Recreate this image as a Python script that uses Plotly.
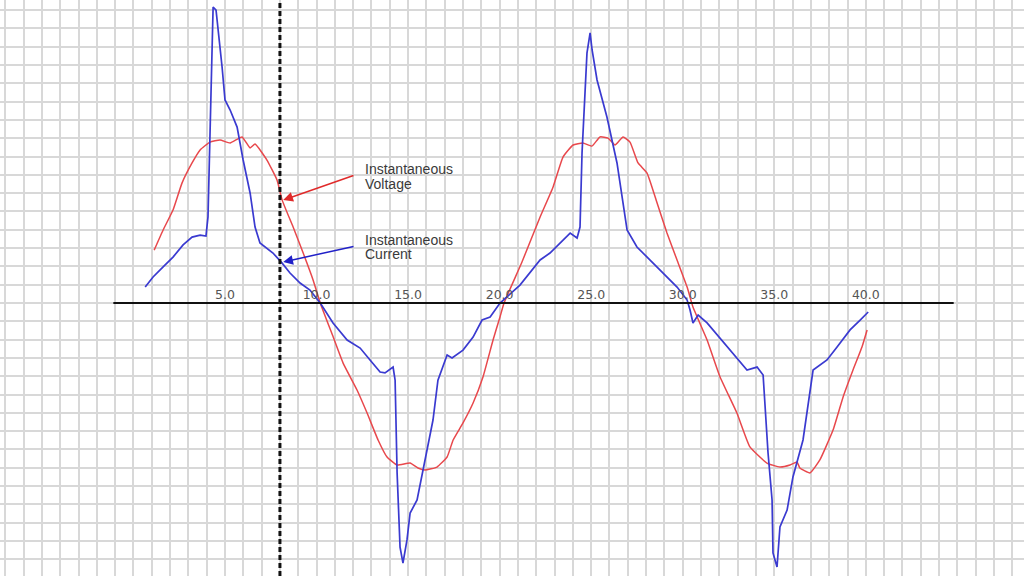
import plotly.graph_objects as go

# Instantaneous voltage (red)
volt_t = [1.13, 1.62, 2.16, 2.65, 3.20, 3.64, 4.18, 4.73, 5.28, 5.93, 6.37, 6.64, 7.29, 7.84, 8.12,
          8.72, 9.27, 9.81, 10.20, 10.91, 11.45, 12.21, 12.76, 13.36, 13.85, 14.40, 15.11, 15.54,
          15.93, 16.58, 17.13, 17.46, 18.00, 18.55, 19.09, 19.64, 20.02, 20.24, 21.22, 22.21,
          22.92, 23.46, 24.01, 24.55, 25.04, 25.48, 25.92, 26.30, 26.74, 27.12, 27.56, 28.05,
          28.60, 29.14, 29.69, 30.24, 30.56, 31.33, 32.04, 32.96, 33.67, 34.60, 35.31, 35.86,
          36.24, 36.40, 36.95, 37.49, 38.21, 38.76, 39.30, 39.79, 40.07]
volt_v = [2.89, 3.99, 5.08, 6.55, 7.65, 8.36, 8.79, 8.90, 8.74, 9.07, 8.47, 8.68, 7.81, 6.72, 5.62,
          4.15, 2.73, 1.26, 0.00, -1.86, -3.28, -4.75, -6.01, -7.48, -8.41, -8.85, -8.74, -9.01,
          -9.12, -8.96, -8.41, -7.48, -6.55, -5.46, -4.04, -2.02, -0.76, 0.00, 2.24, 4.70,
          6.34, 7.97, 8.63, 8.74, 8.57, 9.07, 9.01, 8.63, 9.07, 8.79, 7.65, 7.10,
          5.46, 3.82, 2.35, 0.87, -0.22, -2.02, -4.04, -6.01, -7.86, -8.74, -8.96, -8.85,
          -8.68, -9.01, -9.28, -8.57, -6.94, -5.13, -3.66, -2.40, -1.47]

# Instantaneous current (blue)
curr_t = [0.64, 1.07, 1.62, 2.16, 2.71, 3.20, 3.64, 3.96, 4.07, 4.18, 4.29, 4.35, 4.51, 4.62, 4.84,
          5.00, 5.28, 5.66, 5.99, 6.37, 6.64, 6.91, 7.30, 7.62, 8.12, 8.55, 9.10, 9.64, 10.20,
          10.90, 11.67, 12.38, 12.92, 13.47, 13.74, 14.18, 14.29, 14.40, 14.56, 14.72, 14.94,
          15.11, 15.49, 15.82, 16.36, 16.63, 17.13, 17.40, 18.00, 18.55, 19.04, 19.48, 20.02,
          21.11, 22.21, 22.75, 23.30, 23.85, 24.23, 24.39, 24.50, 24.77, 24.94, 25.05, 25.32,
          25.86, 26.41, 26.96, 27.50, 28.21, 28.92, 29.69, 30.24, 30.40, 30.56, 30.84, 31.33,
          32.04, 32.75, 33.51, 34.06, 34.39, 34.66, 34.88, 34.93, 35.15, 35.31, 35.70, 36.02,
          36.57, 37.12, 37.88, 38.43, 39.14, 39.69, 40.13]
curr_v = [0.87, 1.42, 1.97, 2.51, 3.17, 3.60, 3.71, 3.66, 4.70, 8.74, 12.89, 16.17, 16.00, 15.07, 12.89,
          11.09, 10.54, 9.61, 7.81, 6.01, 4.15, 3.28, 3.00, 2.73, 2.18, 1.64, 1.09, 0.71, 0.00,
          -1.09, -2.02, -2.46, -3.11, -3.77, -3.82, -3.50, -4.21, -9.28, -13.33, -14.20, -12.94,
          -11.47, -10.76, -9.12, -6.39, -4.21, -2.84, -3.00, -2.57, -1.86, -0.93, -0.76, 0.00,
          0.98, 2.35, 2.73, 3.28, 3.82, 3.55, 4.15, 8.19, 13.65, 14.75, 13.82, 12.18,
          10.16, 7.65, 3.99, 3.06, 2.35, 1.64, 0.87, 0.16, -0.38, -1.09, -0.66, -1.09,
          -1.91, -2.73, -3.66, -3.50, -3.93, -8.19, -10.76, -13.65, -14.42, -12.23, -11.31, -9.50,
          -7.48, -3.66, -3.11, -2.40, -1.47, -0.93, -0.49]

tick_vals = [5, 10, 15, 20, 25, 30, 35, 40]
tick_text = ["5.0", "10.0", "15.0", "20.0", "25.0", "30.0", "35.0", "40.0"]
marker_t = 8.0

fig = go.Figure()
fig.add_trace(go.Scatter(x=volt_t, y=volt_v, mode="lines", line_shape="spline",
                         line=dict(color="#e8484c", width=1.5, smoothing=0.4),
                         name="Instantaneous Voltage"))
fig.add_trace(go.Scatter(x=curr_t, y=curr_v, mode="lines",
                         line=dict(color="#3a3ad0", width=1.7), name="Instantaneous Current"))
fig.add_trace(go.Scatter(x=tick_vals, y=[0.40] * len(tick_vals), mode="text", text=tick_text,
                         textfont=dict(family="DejaVu Sans", size=12.5, color="#555555"),
                         hoverinfo="skip"))

# horizontal axis line
fig.add_shape(type="line", x0=-1.1, x1=44.8, y0=0, y1=0,
              line=dict(color="#111111", width=2), layer="above")
# vertical dashed marker
fig.add_shape(type="line", x0=marker_t, x1=marker_t, y0=0, y1=1, yref="paper",
              line=dict(color="#111111", width=3, dash="5px,3px"), layer="above")

# arrows
fig.add_annotation(x=8.18, y=5.62, ax=12.10, ay=6.99, axref="x", ayref="y", text="",
                   showarrow=True, arrowhead=2, arrowsize=1.3, arrowwidth=1.5, arrowcolor="#e02a2a")
fig.add_annotation(x=8.18, y=2.24, ax=12.10, ay=3.11, axref="x", ayref="y", text="",
                   showarrow=True, arrowhead=2, arrowsize=1.3, arrowwidth=1.5, arrowcolor="#2020c8")

labels = [("Instantaneous", 7.33), ("Voltage", 6.50), ("Instantaneous", 3.44), ("Current", 2.68)]
for txt, yy in labels:
    fig.add_annotation(x=12.55, y=yy, text=txt, showarrow=False, xanchor="left", yanchor="middle",
                       font=dict(family="Liberation Sans", size=14, color="#3a3a3a"))

fig.update_layout(
    width=1024, height=576, margin=dict(l=0, r=0, t=0, b=0),
    paper_bgcolor="white", plot_bgcolor="white", showlegend=False,
    xaxis=dict(range=[-7.29, 48.64], dtick=1, tick0=0, showgrid=True, gridcolor="#d8d8d8",
               gridwidth=1.8, zeroline=False, showticklabels=False, ticks="", showline=False),
    yaxis=dict(range=[-14.91, 16.55], dtick=1, tick0=0, showgrid=True, gridcolor="#d8d8d8",
               gridwidth=1.8, zeroline=False, showticklabels=False, ticks="", showline=False),
)

fig.write_html("out.html", config={"displayModeBar": False},
               post_script="document.body.style.margin='0';document.body.style.overflow='hidden';")
